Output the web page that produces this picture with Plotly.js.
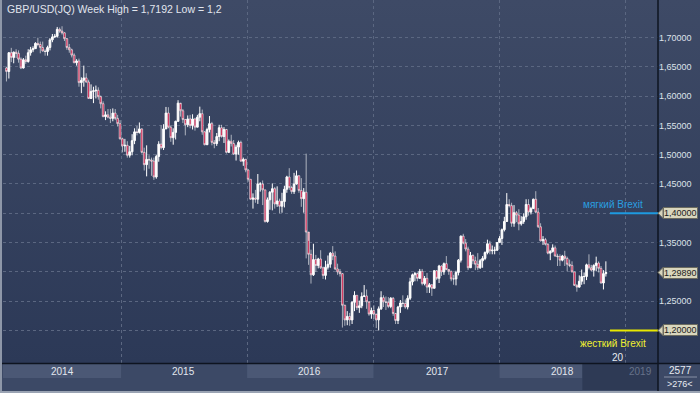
<!DOCTYPE html>
<html>
<head>
<meta charset="utf-8">
<script src="https://cdn.plot.ly/plotly-3.0.1.min.js"></script>
<style>html,body{margin:0;padding:0;background:#3c4966;}#chart{width:700px;height:393px;}</style>
</head>
<body>
<div id="chart"></div>
<script>
// ---- data: GBP/USD weekly candles, first week starting 2014-02-03 ----
const firstWeek = '2014-02-03';
const firstOpen = 1.6480;
const closes = [
// 2014
1.6420,1.6740,1.6660,1.6750,1.6730,1.6630,1.6480,1.6620,1.6590,1.6740,1.6790,1.6810,1.6900,1.6880,1.6830,1.6770,1.6760,1.6830,1.6960,1.7010,1.7020,1.7140,1.7110,1.7080,1.6980,1.6830,1.6790,1.6700,1.6570,1.6600,1.6230,1.6270,1.6310,1.6240,1.5960,1.6080,1.6090,1.6100,1.5990,1.5870,1.5650,1.5680,1.5640,1.5620,1.5710,1.5620,1.5530,1.5270,
// 2015
1.5150,1.5160,1.4990,1.5050,1.5240,1.5390,1.5380,1.5440,1.5040,1.4830,1.4920,1.4910,1.4890,1.4620,1.4970,1.5180,1.5120,1.5440,1.5710,1.5470,1.5290,1.5380,1.5570,1.5880,1.5750,1.5600,1.5510,1.5610,1.5500,1.5610,1.5470,1.5640,1.5700,1.5390,1.5170,1.5430,1.5530,1.5210,1.5190,1.5310,1.5460,1.5310,1.5430,1.5040,1.5230,1.5190,1.5010,1.5130,1.5210,1.4890,1.4920,1.4740,
// 2016
1.4580,1.4240,1.4260,1.4240,1.4500,1.4500,1.4400,1.3860,1.4230,1.4360,1.4420,1.4160,1.4210,1.4120,1.4200,1.4410,1.4620,1.4440,1.4370,1.4500,1.4640,1.4390,1.4250,1.4360,1.3680,1.3300,1.2950,1.3210,1.3110,1.3220,1.3070,1.2940,1.3080,1.3130,1.3320,1.3270,1.3050,1.3000,1.2970,1.2430,1.2180,1.2240,1.2180,1.2480,1.2600,1.2390,1.2420,1.2580,1.2590,1.2490,1.2280,1.2340,
// 2017
1.2280,1.2180,1.2370,1.2560,1.2490,1.2480,1.2410,1.2550,1.2290,1.2170,1.2400,1.2470,1.2460,1.2400,1.2550,1.2830,1.2950,1.2970,1.2890,1.3010,1.2800,1.2890,1.2740,1.2780,1.2720,1.3020,1.2890,1.3100,1.3000,1.3140,1.3040,1.3010,1.2880,1.2880,1.2990,1.3200,1.3610,1.3490,1.3390,1.3070,1.3280,1.3190,1.3130,1.3070,1.3190,1.3230,1.3330,1.3480,1.3360,1.3370,1.3370,1.3500,
// 2018
1.3570,1.3720,1.3860,1.4150,1.4130,1.3830,1.4010,1.3970,1.3820,1.3860,1.3940,1.4150,1.4020,1.4080,1.4240,1.4020,1.3770,1.3530,1.3550,1.3470,1.3320,1.3350,1.3410,1.3270,1.3260,1.3200,1.3270,1.3230,1.3130,1.3110,1.3000,1.2770,1.2740,1.2840,1.2920,1.2920,1.3120,1.3070,1.3030,1.3110,1.3150,1.3060,1.2810,1.2970,1.2989
];
const highs = [
// 2014
1.6500,1.6750,1.6823,1.6760,1.6800,1.6780,1.6660,1.6650,1.6690,1.6800,1.6840,1.6850,1.6920,1.6996,1.6930,1.6930,1.6800,1.6860,1.6990,1.7060,1.7060,1.7180,1.7170,1.7192,1.7090,1.6990,1.6890,1.6810,1.6730,1.6630,1.6640,1.6320,1.6520,1.6390,1.6280,1.6200,1.6160,1.6180,1.6150,1.6010,1.5910,1.5740,1.5780,1.5780,1.5790,1.5780,1.5680,1.5590,
// 2015
1.5290,1.5270,1.5230,1.5150,1.5350,1.5450,1.5490,1.5550,1.5450,1.5120,1.5160,1.4990,1.4950,1.4950,1.5000,1.5230,1.5500,1.5520,1.5815,1.5810,1.5500,1.5450,1.5580,1.5930,1.5860,1.5780,1.5610,1.5670,1.5680,1.5690,1.5630,1.5680,1.5820,1.5770,1.5400,1.5460,1.5660,1.5560,1.5250,1.5370,1.5510,1.5510,1.5470,1.5440,1.5260,1.5340,1.5250,1.5170,1.5240,1.5240,1.4950,1.4930,
// 2016
1.4750,1.4580,1.4340,1.4400,1.4670,1.4530,1.4560,1.4400,1.4270,1.4380,1.4510,1.4450,1.4460,1.4250,1.4350,1.4470,1.4640,1.4770,1.4470,1.4690,1.4730,1.4650,1.4600,1.4430,1.5018,1.3530,1.3380,1.3480,1.3290,1.3240,1.3370,1.3090,1.3190,1.3280,1.3340,1.3440,1.3350,1.3140,1.3050,1.2980,1.2440,1.2330,1.2300,1.2500,1.2670,1.2600,1.2510,1.2650,1.2775,1.2700,1.2470,1.2390,
// 2017
1.2430,1.2270,1.2410,1.2670,1.2600,1.2580,1.2570,1.2570,1.2570,1.2300,1.2420,1.2520,1.2600,1.2530,1.2600,1.2900,1.2970,1.3000,1.2990,1.3050,1.3050,1.2930,1.2980,1.2810,1.2790,1.3030,1.3030,1.3120,1.3110,1.3160,1.3270,1.3050,1.3020,1.2950,1.3020,1.3220,1.3620,1.3650,1.3560,1.3430,1.3340,1.3300,1.3260,1.3320,1.3220,1.3270,1.3350,1.3550,1.3530,1.3450,1.3430,1.3510,
// 2018
1.3610,1.3740,1.3940,1.4345,1.4240,1.4180,1.4140,1.4040,1.4070,1.3950,1.4000,1.4240,1.4240,1.4110,1.4250,1.4377,1.4090,1.3830,1.3610,1.3580,1.3490,1.3370,1.3470,1.3450,1.3310,1.3300,1.3290,1.3360,1.3260,1.3210,1.3180,1.3000,1.2790,1.2940,1.3040,1.2990,1.3140,1.3300,1.3120,1.3130,1.3260,1.3180,1.3100,1.3030,1.3180
];
const lows = [
// 2014
1.6250,1.6300,1.6580,1.6560,1.6650,1.6570,1.6460,1.6470,1.6550,1.6570,1.6690,1.6750,1.6810,1.6850,1.6730,1.6760,1.6690,1.6690,1.6780,1.6920,1.6990,1.7000,1.7080,1.7050,1.6940,1.6790,1.6740,1.6660,1.6560,1.6520,1.6160,1.6050,1.6160,1.6230,1.5950,1.5950,1.5880,1.5960,1.5940,1.5790,1.5640,1.5590,1.5620,1.5540,1.5570,1.5590,1.5480,1.5260,
// 2015
1.5040,1.5050,1.4950,1.4950,1.4990,1.5180,1.5330,1.5360,1.5020,1.4730,1.4630,1.4760,1.4640,1.4570,1.4590,1.4880,1.5090,1.5080,1.5460,1.5450,1.5220,1.5170,1.5260,1.5560,1.5650,1.5540,1.5330,1.5470,1.5450,1.5430,1.5410,1.5480,1.5570,1.5340,1.5160,1.5180,1.5380,1.5160,1.5110,1.5150,1.5230,1.5290,1.5200,1.5020,1.5030,1.5140,1.5000,1.4900,1.5000,1.4880,1.4810,1.4700,
// 2016
1.4540,1.4230,1.4080,1.4180,1.4160,1.4370,1.4140,1.3840,1.3840,1.4060,1.4050,1.4080,1.4110,1.4000,1.4010,1.4100,1.4350,1.4400,1.4330,1.4330,1.4490,1.4350,1.4110,1.4010,1.3230,1.3120,1.2800,1.2930,1.3000,1.3060,1.3050,1.2880,1.2870,1.3040,1.3070,1.3200,1.3030,1.2950,1.2920,1.2050,1.2080,1.2090,1.2080,1.2110,1.2330,1.2350,1.2300,1.2380,1.2570,1.2370,1.2250,1.2200,
// 2017
1.2200,1.2040,1.2000,1.2350,1.2400,1.2350,1.2380,1.2380,1.2250,1.2110,1.2110,1.2300,1.2400,1.2370,1.2360,1.2520,1.2770,1.2840,1.2840,1.2880,1.2770,1.2770,1.2640,1.2640,1.2590,1.2720,1.2860,1.2810,1.2930,1.2950,1.3030,1.2950,1.2840,1.2780,1.2770,1.2940,1.3160,1.3470,1.3350,1.3030,1.3120,1.3130,1.3030,1.3030,1.3050,1.3070,1.3200,1.3300,1.3300,1.3300,1.3300,1.3360,
// 2018
1.3500,1.3460,1.3690,1.3880,1.4100,1.3770,1.3770,1.3850,1.3710,1.3790,1.3820,1.3890,1.3960,1.3980,1.4090,1.4000,1.3750,1.3520,1.3460,1.3450,1.3300,1.3200,1.3330,1.3260,1.3100,1.3100,1.3180,1.3100,1.3010,1.3080,1.2990,1.2760,1.2662,1.2730,1.2780,1.2790,1.2860,1.3040,1.3010,1.2920,1.3010,1.2990,1.2800,1.2700,1.2920
];
const yearLabels = ['2014','2015','2016','2017','2018','2019'];
const priceTicks = [1.20,1.25,1.30,1.35,1.40,1.45,1.50,1.55,1.60,1.65,1.70];
const softBrexit = 1.40, hardBrexit = 1.20;

// ---- build ----
const dates = [];
const d0 = new Date(firstWeek + 'T00:00:00Z');
for (let i = 0; i < closes.length; i++) {
  const d = new Date(d0.getTime() + i * 7 * 86400000);
  dates.push(d.toISOString().slice(0, 10));
}
const opens = [firstOpen].concat(closes.slice(0, -1));
const fmt = (v, n) => (n === undefined ? String(v) : v.toFixed(n)).replace('.', ',');
const hiVal = Math.max.apply(null, highs), loVal = Math.min.apply(null, lows);
const last = closes[closes.length - 1];
const hideLbl = [1.20, 1.30, 1.40];
const tickText = priceTicks.map(v => hideLbl.some(h => Math.abs(h - v) < 1e-9) ? '' : fmt(v, 5));

const W = 700, H = 393, ML = 3, MR = 42, MB = 30;
const PW = W - ML - MR, PH = H - MB;
const px = x => (x - ML) / PW;     // pixel x -> paper
const py = y => 1 - y / PH;        // pixel y -> paper
const xr = ['2014-01-24', '2019-04-05'];
const yr = [1.1445, 1.764];
const dy = (yr[1] - yr[0]) / PH;   // value per pixel

const font = 'Liberation Sans, Arial, sans-serif';
const grad = "<svg xmlns='http://www.w3.org/2000/svg' width='700' height='363' preserveAspectRatio='none'>" +
  "<defs><linearGradient id='g' x1='0' y1='0' x2='0' y2='1'><stop offset='0' stop-color='#3e4a66'/>" +
  "<stop offset='1' stop-color='#2c3957'/></linearGradient></defs><rect width='700' height='363' fill='url(#g)'/></svg>";

const trace = {
  type: 'candlestick', x: dates, open: opens, high: highs, low: lows, close: closes,
  increasing: {line: {color: '#ffffff', width: 1}, fillcolor: '#ffffff'},
  decreasing: {line: {color: '#ffffff', width: 0.6}, fillcolor: '#c8103f'},
  whiskerwidth: 0, hoverinfo: 'skip', showlegend: false
};

const yearPos = ['2014-07-15', '2015-07-02', '2016-07-01', '2017-07-04', '2018-07-01', '2019-02-14'];
const shapes = [
  // year bands
  {type: 'rect', xref: 'x', yref: 'paper', x0: xr[0], x1: '2015-01-01', y0: py(378), y1: py(364), fillcolor: '#4b5875', line: {width: 0}, layer: 'below'},
  {type: 'rect', xref: 'x', yref: 'paper', x0: '2016-01-01', x1: '2017-01-01', y0: py(378), y1: py(364), fillcolor: '#4b5875', line: {width: 0}, layer: 'below'},
  {type: 'rect', xref: 'x', yref: 'paper', x0: '2018-01-01', x1: '2018-08-29', y0: py(378), y1: py(364), fillcolor: '#4b5875', line: {width: 0}, layer: 'below'},
  {type: 'rect', xref: 'x', yref: 'paper', x0: '2018-08-29', x1: xr[1], y0: py(390), y1: py(364), fillcolor: '#2e3a55', line: {width: 0}, layer: 'below'},
  // frame lines
  {type: 'line', xref: 'paper', yref: 'paper', x0: px(0), x1: px(700), y0: py(363.5), y1: py(363.5), line: {color: '#0e1420', width: 1.5}},
  {type: 'line', xref: 'paper', yref: 'paper', x0: px(658), x1: px(658), y0: py(393), y1: py(0), line: {color: '#0e1420', width: 1.5}},
  {type: 'line', xref: 'paper', yref: 'paper', x0: px(1), x1: px(1), y0: py(393), y1: py(0), line: {color: '#8e97a8', width: 2}},
  {type: 'line', xref: 'paper', yref: 'paper', x0: px(0), x1: px(700), y0: py(392), y1: py(392), line: {color: '#9aa3b3', width: 2}},
  {type: 'line', xref: 'paper', yref: 'paper', x0: px(664), x1: px(697), y0: py(377), y1: py(377), line: {color: '#8791a5', width: 1}},
  // brexit levels
  {type: 'line', xref: 'paper', yref: 'y', x0: px(610), x1: px(658), y0: softBrexit, y1: softBrexit, line: {color: '#1e9ae0', width: 2}},
  {type: 'line', xref: 'paper', yref: 'y', x0: px(610), x1: px(658), y0: hardBrexit, y1: hardBrexit, line: {color: '#e8e800', width: 2}}
];
// callout pointers
[softBrexit, last, hardBrexit].forEach(v => {
  shapes.push({type: 'path', xref: 'paper', yref: 'y',
    path: `M ${px(658)},${v} L ${px(663)},${v + 5 * dy} L ${px(663)},${v - 5 * dy} Z`,
    fillcolor: '#d9d6bd', line: {color: '#6b6b60', width: 1}});
});

const annotations = [
  {text: `GBP/USD(JQ) Week High = ${fmt(hiVal)} Low = ${fmt(loVal)}`, xref: 'paper', yref: 'paper', x: px(5), y: py(9),
   xanchor: 'left', yanchor: 'middle', showarrow: false, font: {family: font, size: 10.5, color: '#e2e6ee'}},
  {text: 'мягкий Brexit', xref: 'paper', yref: 'y', x: px(645), y: 1.70 - (204 - 37.5) * dy, xanchor: 'right', yanchor: 'middle',
   showarrow: false, font: {family: font, size: 10, color: '#2a9fe0'}},
  {text: 'жесткий Brexit', xref: 'paper', yref: 'y', x: px(648), y: 1.70 - (343 - 37.5) * dy, xanchor: 'right', yanchor: 'middle',
   showarrow: false, font: {family: font, size: 10, color: '#f0f030'}},
  {text: '20', xref: 'paper', yref: 'paper', x: px(618), y: py(357), xanchor: 'center', yanchor: 'middle',
   showarrow: false, font: {family: font, size: 10, color: '#e8ecf2'}},
  {text: '2577', xref: 'paper', yref: 'paper', x: px(680), y: py(370), xanchor: 'center', yanchor: 'middle',
   showarrow: false, font: {family: font, size: 10, color: '#e8ecf2'}},
  {text: '>276<', xref: 'paper', yref: 'paper', x: px(680), y: py(384), xanchor: 'center', yanchor: 'middle',
   showarrow: false, font: {family: font, size: 9, color: '#e8ecf2'}}
];
[softBrexit, last, hardBrexit].forEach(v => {
  annotations.push({text: fmt(v, 5), xref: 'paper', yref: 'y', x: px(663), y: v, xanchor: 'left', yanchor: 'middle',
    showarrow: false, bgcolor: '#d9d6bd', bordercolor: '#6b6b60', borderwidth: 1, borderpad: 0,
    font: {family: font, size: 9, color: '#1c1c1c'}});
});
yearLabels.forEach((t, i) => {
  annotations.push({text: t, xref: 'x', yref: 'paper', x: yearPos[i], y: py(371), xanchor: 'center', yanchor: 'middle',
    showarrow: false, font: {family: font, size: 10, color: i === 5 ? '#66728a' : '#e3e7ee'}});
});

const layout = {
  width: W, height: H, margin: {l: ML, r: MR, t: 0, b: MB, pad: 0},
  paper_bgcolor: '#3c4966', plot_bgcolor: 'rgba(0,0,0,0)', boxgap: 0,
  images: [{source: 'data:image/svg+xml;charset=utf-8,' + encodeURIComponent(grad), xref: 'paper', yref: 'paper',
    x: px(0), y: 1, sizex: W / PW, sizey: 1, sizing: 'stretch', xanchor: 'left', yanchor: 'top', layer: 'below'}],
  xaxis: {type: 'date', range: xr, showgrid: true, gridcolor: '#5b6781', griddash: '3px,3px', gridwidth: 1,
    tick0: '2015-01-01', dtick: 'M12', showticklabels: false, ticks: '', zeroline: false, showline: false,
    rangeslider: {visible: false}, fixedrange: true},
  yaxis: {side: 'right', range: yr, tickvals: priceTicks, ticktext: tickText, ticks: '', showgrid: true,
    gridcolor: '#5b6781', griddash: '3px,3px', gridwidth: 1, zeroline: false, showline: false,
    tickfont: {family: font, size: 9, color: '#dde2ea'}, fixedrange: true},
  shapes: shapes, annotations: annotations, showlegend: false
};
Plotly.newPlot('chart', [trace], layout, {staticPlot: true, displayModeBar: false});
</script>
</body>
</html>
